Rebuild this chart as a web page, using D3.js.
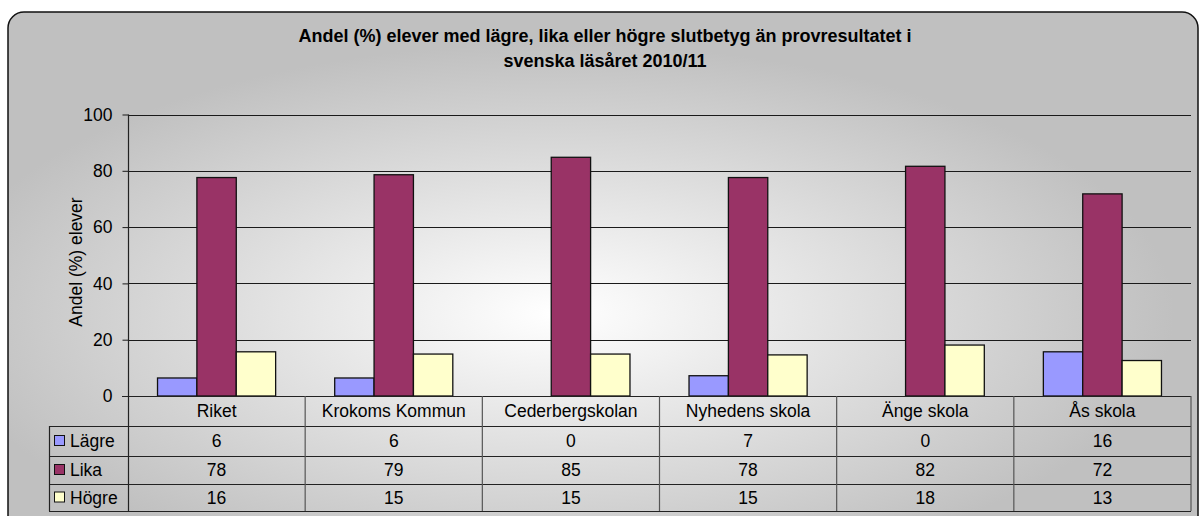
<!DOCTYPE html>
<html>
<head>
<meta charset="utf-8">
<script src="https://cdn.jsdelivr.net/npm/d3@7"></script>
<style>
    body { margin: 0; background: #ffffff; }
    text { font-family: "Liberation Sans", Arial, sans-serif; fill: #000; }
</style>
</head>
<body>
<div id="chart"></div>
<script>
// chart data
const titleLines = ["Andel (%) elever med lägre, lika eller högre slutbetyg än provresultatet i", "svenska läsåret 2010/11"];
const yLabel = "Andel (%) elever";
const categories = ["Riket", "Krokoms Kommun", "Cederbergskolan", "Nyhedens skola", "Änge skola", "Ås skola"];
const seriesNames = ["Lägre", "Lika", "Högre"];
const lagre = [6.4, 6.4, 0, 7.2, 0, 15.7];
const lika = [77.6, 78.6, 84.8, 77.6, 81.6, 71.8];
const hogre = [15.7, 14.9, 14.9, 14.6, 18.1, 12.6];
const yTicks = [0, 20, 40, 60, 80, 100];
const seriesColors = ["#9999ff", "#993366", "#ffffcc"];

const WIDTH = 1201, HEIGHT = 516;
const PLOT = { LEFT: 128, RIGHT: 1191, TOP: 114.5, BOTTOM: 396 };
const TABLE = { LEFT: 49, ROWS: [396, 426, 456, 484, 511] };
const FONT = 17.5;

const seriesValues = [lagre, lika, hogre];

const svg = d3.select("#chart").append("svg")
    .attr("width", WIDTH)
    .attr("height", HEIGHT);

// background gradient
const defs = svg.append("defs");
const grad = defs.append("radialGradient")
    .attr("id", "bg")
    .attr("cx", 0.46).attr("cy", 0.58).attr("r", 0.52)
    .attr("fx", 0.46).attr("fy", 0.58);
grad.append("stop").attr("offset", "0%").attr("stop-color", "#ffffff");
grad.append("stop").attr("offset", "100%").attr("stop-color", "#c0c0c0");

svg.append("rect")
    .attr("x", 8).attr("y", 12)
    .attr("width", 1190).attr("height", 520)
    .attr("rx", 16).attr("ry", 16)
    .attr("fill", "url(#bg)")
    .attr("stroke", "#111")
    .attr("stroke-width", 1.5);

// title
svg.append("g").selectAll("text")
    .data(titleLines)
    .join("text")
    .attr("x", 605)
    .attr("y", (d, i) => 42 + i * 25)
    .attr("text-anchor", "middle")
    .attr("font-size", "18px")
    .attr("font-weight", "bold")
    .text(d => d);

// scales
const x = d3.scaleBand()
    .domain(categories)
    .range([PLOT.LEFT, PLOT.RIGHT])
    .padding(0);
const xInner = d3.scaleBand()
    .domain(seriesNames)
    .range([0, x.bandwidth()])
    .paddingInner(0)
    .paddingOuter(0.75);
const y = d3.scaleLinear()
    .domain([0, 100])
    .range([PLOT.BOTTOM, PLOT.TOP]);

// gridlines
svg.append("g").selectAll("line")
    .data(yTicks.filter(d => d > 0))
    .join("line")
    .attr("x1", PLOT.LEFT).attr("x2", PLOT.RIGHT)
    .attr("y1", d => Math.round(y(d)) + 0.5)
    .attr("y2", d => Math.round(y(d)) + 0.5)
    .attr("stroke", "#1a1a1a");

// y axis
const yAxis = svg.append("g")
    .attr("transform", `translate(${PLOT.LEFT + 0.5}, 0)`)
    .call(d3.axisLeft(y).tickValues(yTicks).tickSize(6).tickPadding(10));
yAxis.select(".domain").remove();
yAxis.selectAll(".tick line").attr("stroke", "#1a1a1a");
yAxis.selectAll(".tick text")
    .attr("font-size", FONT + "px")
    .attr("font-family", "Liberation Sans, Arial, sans-serif")
    .attr("fill", "#000");

// y label
svg.append("text")
    .attr("transform", `translate(82, 262) rotate(-90)`)
    .attr("text-anchor", "middle")
    .attr("font-size", FONT + "px")
    .text(yLabel);

// bars
const groups = svg.append("g").selectAll("g")
    .data(categories)
    .join("g")
    .attr("transform", d => `translate(${x(d)}, 0)`);
groups.selectAll("rect")
    .data((d, i) => seriesNames.map((s, j) => ({ s, v: seriesValues[j][i], c: seriesColors[j] })))
    .join("rect")
    .filter(d => d.v > 0)
    .attr("x", d => xInner(d.s))
    .attr("y", d => y(d.v))
    .attr("width", xInner.bandwidth())
    .attr("height", d => y(0) - y(d.v))
    .attr("fill", d => d.c)
    .attr("stroke", "#111")
    .attr("stroke-width", 1.3);

// data table lines
const table = svg.append("g").attr("stroke", "#222").attr("stroke-width", 1.2);
// vertical y axis line through the table
table.append("line")
    .attr("x1", PLOT.LEFT + 0.5).attr("x2", PLOT.LEFT + 0.5)
    .attr("y1", PLOT.TOP).attr("y2", TABLE.ROWS[4]);
// horizontal row lines
table.selectAll(".row")
    .data(TABLE.ROWS)
    .join("line")
    .attr("class", "row")
    .attr("x1", (d, i) => i === 0 ? PLOT.LEFT - 6 : TABLE.LEFT)
    .attr("x2", PLOT.RIGHT)
    .attr("y1", d => d + 0.5).attr("y2", d => d + 0.5);
// left edge of series labels
table.append("line")
    .attr("x1", TABLE.LEFT + 0.5).attr("x2", TABLE.LEFT + 0.5)
    .attr("y1", TABLE.ROWS[1]).attr("y2", TABLE.ROWS[4]);
// column dividers
table.selectAll(".col")
    .data(categories)
    .join("line")
    .attr("class", "col")
    .attr("stroke", "#555")
    .attr("x1", d => x(d) + x.bandwidth())
    .attr("x2", d => x(d) + x.bandwidth())
    .attr("y1", TABLE.ROWS[0]).attr("y2", TABLE.ROWS[4]);

// category labels
svg.append("g").selectAll("text")
    .data(categories)
    .join("text")
    .attr("x", d => x(d) + x.bandwidth() / 2)
    .attr("y", (TABLE.ROWS[0] + TABLE.ROWS[1]) / 2)
    .attr("dy", "0.35em")
    .attr("text-anchor", "middle")
    .attr("font-size", FONT + "px")
    .text(d => d);

// series rows: legend key, name and values
const fmt = d3.format(".0f");
const rows = svg.append("g").selectAll("g")
    .data(seriesNames)
    .join("g")
    .attr("transform", (d, i) => `translate(0, ${(TABLE.ROWS[i + 1] + TABLE.ROWS[i + 2]) / 2})`);
rows.append("rect")
    .attr("x", 54.5).attr("y", -5.5)
    .attr("width", 10).attr("height", 10)
    .attr("fill", (d, i) => seriesColors[i])
    .attr("stroke", "#111");
rows.append("text")
    .attr("x", 70)
    .attr("dy", "0.35em")
    .attr("font-size", FONT + "px")
    .text(d => d);
rows.each(function(s, j) {
    d3.select(this).selectAll(".val")
        .data(categories)
        .join("text")
        .attr("class", "val")
        .attr("x", d => x(d) + x.bandwidth() / 2)
        .attr("dy", "0.35em")
        .attr("text-anchor", "middle")
        .attr("font-size", FONT + "px")
        .text((d, i) => fmt(seriesValues[j][i]));
});
</script>
</body>
</html>
